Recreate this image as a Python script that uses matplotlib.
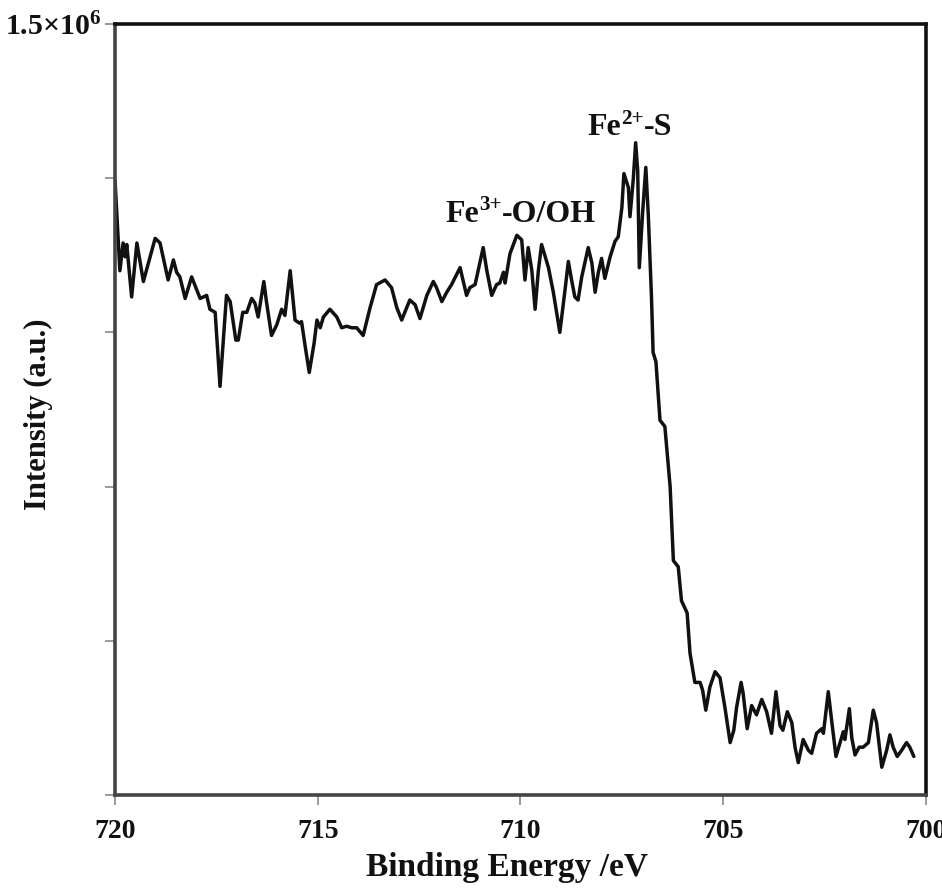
import matplotlib
matplotlib.use("Agg")
import matplotlib.pyplot as plt
from matplotlib.transforms import offset_copy
import numpy as np

plt.rcParams["font.family"] = ["Liberation Serif", "DejaVu Serif"]
plt.rcParams["font.weight"] = "bold"
plt.rcParams["mathtext.fontset"] = "custom"
plt.rcParams["mathtext.rm"] = "Liberation Serif:bold"
plt.rcParams["mathtext.bf"] = "Liberation Serif:bold"
plt.rcParams["mathtext.it"] = "Liberation Serif:bold"
plt.rcParams["mathtext.default"] = "bf"

# Fe 2p region: binding energy (eV) and intensity (x10^6 counts)
binding_energy = [
    720.00, 719.88, 719.80, 719.75, 719.71, 719.59, 719.46, 719.30, 719.01, 718.89,
    718.69, 718.56, 718.48, 718.40, 718.27, 718.11, 717.90, 717.74, 717.66, 717.53,
    717.41, 717.25, 717.16, 717.02, 716.96, 716.85, 716.75, 716.63, 716.55, 716.47,
    716.33, 716.26, 716.14, 716.01, 715.89, 715.81, 715.68, 715.56, 715.45, 715.40,
    715.31, 715.21, 715.09, 715.02, 714.94, 714.86, 714.70, 714.53, 714.41, 714.29,
    714.16, 714.04, 713.88, 713.71, 713.55, 713.34, 713.18, 713.05, 712.93, 712.73,
    712.60, 712.48, 712.31, 712.15, 712.07, 711.94, 711.82, 711.70, 711.49, 711.33,
    711.25, 711.12, 710.92, 710.83, 710.71, 710.59, 710.51, 710.42, 710.38, 710.26,
    710.09, 709.97, 709.89, 709.81, 709.72, 709.64, 709.56, 709.48, 709.40, 709.31,
    709.19, 709.03, 708.90, 708.82, 708.74, 708.66, 708.58, 708.49, 708.33, 708.24,
    708.16, 708.08, 708.00, 707.92, 707.79, 707.67, 707.59, 707.50, 707.45, 707.34,
    707.30, 707.22, 707.16, 707.11, 707.07, 706.99, 706.91, 706.85, 706.77, 706.73,
    706.66, 706.56, 706.44, 706.31, 706.23, 706.11, 706.03, 705.89, 705.82, 705.77,
    705.70, 705.57, 705.51, 705.43, 705.33, 705.20, 705.08, 704.96, 704.83, 704.74,
    704.67, 704.56, 704.51, 704.41, 704.30, 704.18, 704.05, 703.93, 703.81, 703.70,
    703.60, 703.53, 703.42, 703.31, 703.23, 703.15, 703.03, 702.90, 702.82, 702.70,
    702.57, 702.53, 702.41, 702.33, 702.22, 702.12, 702.04, 702.00, 701.89, 701.83,
    701.75, 701.65, 701.55, 701.42, 701.30, 701.22, 701.09, 700.97, 700.89, 700.81,
    700.71, 700.60, 700.48, 700.40, 700.30,
]

intensity_1e6 = [
    1.399, 1.340, 1.358, 1.349, 1.357, 1.323, 1.358, 1.333, 1.361, 1.358,
    1.334, 1.347, 1.339, 1.336, 1.322, 1.336, 1.322, 1.324, 1.315, 1.313,
    1.265, 1.324, 1.320, 1.295, 1.295, 1.313, 1.313, 1.322, 1.319, 1.310,
    1.333, 1.319, 1.298, 1.305, 1.315, 1.311, 1.340, 1.308, 1.306, 1.307,
    1.291, 1.274, 1.293, 1.308, 1.303, 1.310, 1.315, 1.310, 1.303, 1.304,
    1.303, 1.303, 1.298, 1.316, 1.331, 1.334, 1.329, 1.316, 1.308, 1.321,
    1.318, 1.309, 1.324, 1.333, 1.329, 1.320, 1.326, 1.331, 1.342, 1.324,
    1.329, 1.331, 1.355, 1.340, 1.324, 1.331, 1.332, 1.339, 1.332, 1.351,
    1.363, 1.360, 1.334, 1.355, 1.340, 1.315, 1.340, 1.357, 1.350, 1.342,
    1.326, 1.300, 1.328, 1.346, 1.334, 1.323, 1.321, 1.336, 1.355, 1.345,
    1.326, 1.339, 1.348, 1.335, 1.349, 1.359, 1.362, 1.381, 1.403, 1.394,
    1.375, 1.399, 1.423, 1.405, 1.342, 1.377, 1.407, 1.377, 1.323, 1.287,
    1.281, 1.243, 1.239, 1.200, 1.152, 1.148, 1.126, 1.118, 1.092, 1.084,
    1.073, 1.073, 1.068, 1.055, 1.070, 1.080, 1.076, 1.057, 1.034, 1.042,
    1.057, 1.073, 1.066, 1.043, 1.058, 1.052, 1.062, 1.054, 1.040, 1.067,
    1.045, 1.042, 1.054, 1.047, 1.031, 1.021, 1.036, 1.029, 1.027, 1.040,
    1.043, 1.040, 1.067, 1.049, 1.025, 1.034, 1.041, 1.036, 1.056, 1.037,
    1.026, 1.031, 1.031, 1.034, 1.055, 1.047, 1.018, 1.029, 1.039, 1.031,
    1.025, 1.029, 1.034, 1.031, 1.025,
]

x_ticks = [720, 715, 710, 705, 700]
x_tick_labels = ["720", "715", "710", "705", "700"]
y_ticks = [1.0e6, 1.1e6, 1.2e6, 1.3e6, 1.4e6, 1.5e6]
y_tick_labels = ["", "", "", "", "", "1.5\u00d710$^{6}$"]

# peak assignments: (text pieces, left edge eV, baseline intensity x10^6)
label_fe2 = [("Fe", "2+", "-S"), 708.34, 1.428]
label_fe3 = [("Fe", "3+", "-O/OH"), 711.86, 1.3716]

energy = np.array(binding_energy)
counts = np.array(intensity_1e6) * 1e6

fig = plt.figure(figsize=(9.42, 8.88), dpi=100)
ax = fig.add_axes([115 / 942, 1 - 795 / 888, 811 / 942, 771 / 888])

ax.plot(energy, counts, color="#111111", lw=2.5,
        solid_joinstyle="round", solid_capstyle="round")

ax.set_xlim(720, 700)
ax.set_ylim(1.0e6, 1.5e6)
ax.set_xticks(x_ticks)
ax.set_xticklabels(x_tick_labels)
ax.set_yticks(y_ticks)
ax.set_yticklabels(y_tick_labels)

for side in ["top", "right"]:
    ax.spines[side].set_color("#111111")
    ax.spines[side].set_linewidth(2.6)
for side in ["left", "bottom"]:
    ax.spines[side].set_color("#444444")
    ax.spines[side].set_linewidth(2.6)

ax.tick_params(axis="both", direction="out", length=7, width=1.4,
               color="#999999", labelsize=20, labelcolor="#111111")
ax.tick_params(axis="x", pad=10)
ax.tick_params(axis="y", pad=3)
ax.get_yticklabels()[-1].set_fontsize(21.5)


def ion_label(pieces, x, y, size=23):
    """Write base + superscript charge + suffix, packed tightly side by side."""
    renderer = fig.canvas.get_renderer()
    base, charge, suffix = pieces
    dx = 0.0
    for txt, scale, rise in [(base, 1.0, 0.0), (charge, 0.66, 0.36), (suffix, 1.0, 0.0)]:
        tr = offset_copy(ax.transData, fig=fig, x=dx, y=rise * size, units="points")
        t = ax.text(x, y * 1e6, txt, fontsize=size * scale, transform=tr,
                    ha="left", va="baseline", color="#111111")
        dx += t.get_window_extent(renderer).width * 72 / fig.dpi


ion_label(*label_fe2)
ion_label(*label_fe3)

fig.text(507 / 942, 1 - 876 / 888, "Binding Energy /eV", fontsize=24,
         ha="center", va="baseline", color="#111111")
fig.text(38 / 942, 1 - 414 / 888, "Intensity (a.u.)", fontsize=22,
         rotation=90, ha="center", va="center", color="#111111")

fig.savefig("out.png", dpi=100)
